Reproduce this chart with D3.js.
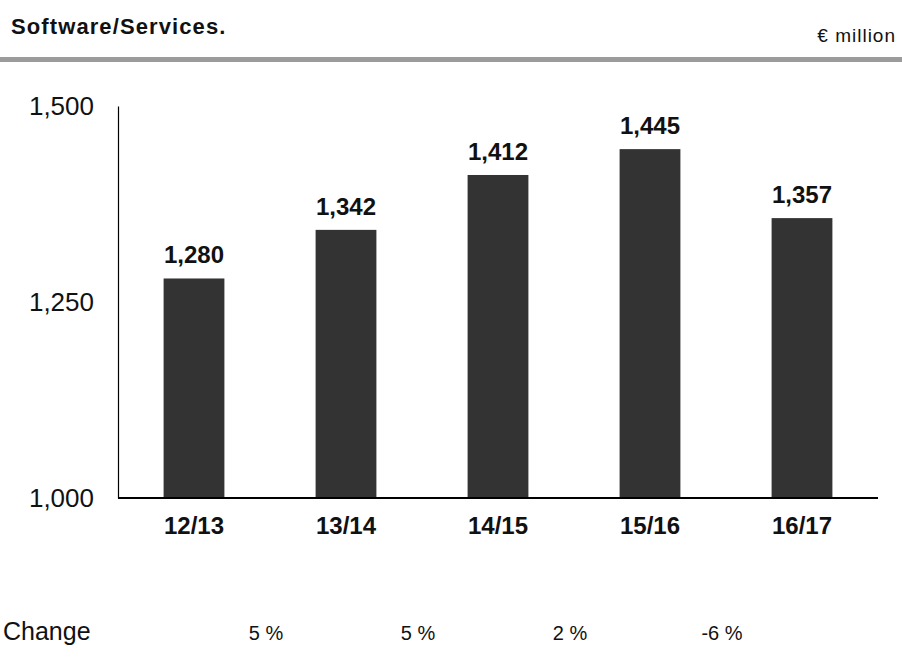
<!DOCTYPE html>
<html>
<head>
<meta charset="utf-8">
<script src="https://cdn.jsdelivr.net/npm/d3@7"></script>
<style>
  html, body { margin: 0; padding: 0; background: #fff; }
  svg { display: block; font-family: "Liberation Sans", Arial, sans-serif; }
</style>
</head>
<body>
<svg id="chart" width="902" height="666"></svg>
<script>
// Software/Services revenue by fiscal year, € million
const years = ["12/13", "13/14", "14/15", "15/16", "16/17"];
const revenue = [1280, 1342, 1412, 1445, 1357];
const yTicks = [1000, 1250, 1500];
const changeLabels = ["5 %", "5 %", "2 %", "-6 %"];

const svg = d3.select("#chart");
const W = 902;

const margin = { left: 118, right: 24, top: 106, bottom: 498 };

const x = d3.scaleBand()
  .domain(years)
  .range([margin.left, W - margin.right])
  .paddingInner(0.6)
  .paddingOuter(0.3);

const y = d3.scaleLinear()
  .domain([1000, 1500])
  .range([margin.bottom, margin.top]);

// Header
svg.append("text")
  .attr("x", 11).attr("y", 34)
  .attr("font-size", 22).attr("font-weight", "bold")
  .attr("letter-spacing", 1.1)
  .attr("fill", "#111")
  .text("Software/Services.");

svg.append("text")
  .attr("x", 896).attr("y", 42)
  .attr("text-anchor", "end")
  .attr("font-size", 19)
  .attr("letter-spacing", 1)
  .attr("fill", "#111")
  .text("€ million");

svg.append("rect")
  .attr("x", 0).attr("y", 57)
  .attr("width", W).attr("height", 5)
  .attr("fill", "#9b9b9b");

// Bars
svg.append("g").selectAll("rect")
  .data(years)
  .join("rect")
  .attr("x", d => x(d))
  .attr("width", x.bandwidth())
  .attr("y", (d, i) => y(revenue[i]))
  .attr("height", (d, i) => y(1000) - y(revenue[i]))
  .attr("fill", "#333333");

// Value labels
svg.append("g").selectAll("text")
  .data(years)
  .join("text")
  .attr("x", d => x(d) + x.bandwidth() / 2)
  .attr("y", (d, i) => y(revenue[i]) - 15)
  .attr("text-anchor", "middle")
  .attr("font-size", 24).attr("font-weight", "bold")
  .attr("fill", "#111")
  .text((d, i) => d3.format(",")(revenue[i]));

// Y axis
const yAxis = svg.append("g")
  .attr("transform", `translate(${margin.left},0)`)
  .call(d3.axisLeft(y).tickValues(yTicks).tickSize(0).tickPadding(24).tickFormat(d3.format(",")));
yAxis.select(".domain").attr("stroke", "#000").attr("stroke-width", 1.2);
yAxis.selectAll("text")
  .attr("font-size", 26)
  .attr("font-family", "Liberation Sans, Arial, sans-serif")
  .attr("fill", "#111");

// X axis
const xAxis = svg.append("g")
  .attr("transform", `translate(0,${margin.bottom})`)
  .call(d3.axisBottom(x).tickSize(0).tickPadding(19));
xAxis.select(".domain")
  .attr("d", `M${margin.left},0H${W - margin.right}`)
  .attr("stroke", "#000").attr("stroke-width", 2);
xAxis.selectAll("text")
  .attr("font-size", 24).attr("font-weight", "bold")
  .attr("font-family", "Liberation Sans, Arial, sans-serif")
  .attr("fill", "#111");

// Year-over-year change row
svg.append("text")
  .attr("x", 3).attr("y", 640)
  .attr("font-size", 25)
  .attr("fill", "#111")
  .text("Change");

svg.append("g").selectAll("text")
  .data(changeLabels)
  .join("text")
  .attr("x", (d, i) => (x(years[i]) + x(years[i + 1]) + x.bandwidth()) / 2 - 4)
  .attr("y", 640)
  .attr("text-anchor", "middle")
  .attr("font-size", 20)
  .attr("fill", "#111")
  .text(d => d);
</script>
</body>
</html>
